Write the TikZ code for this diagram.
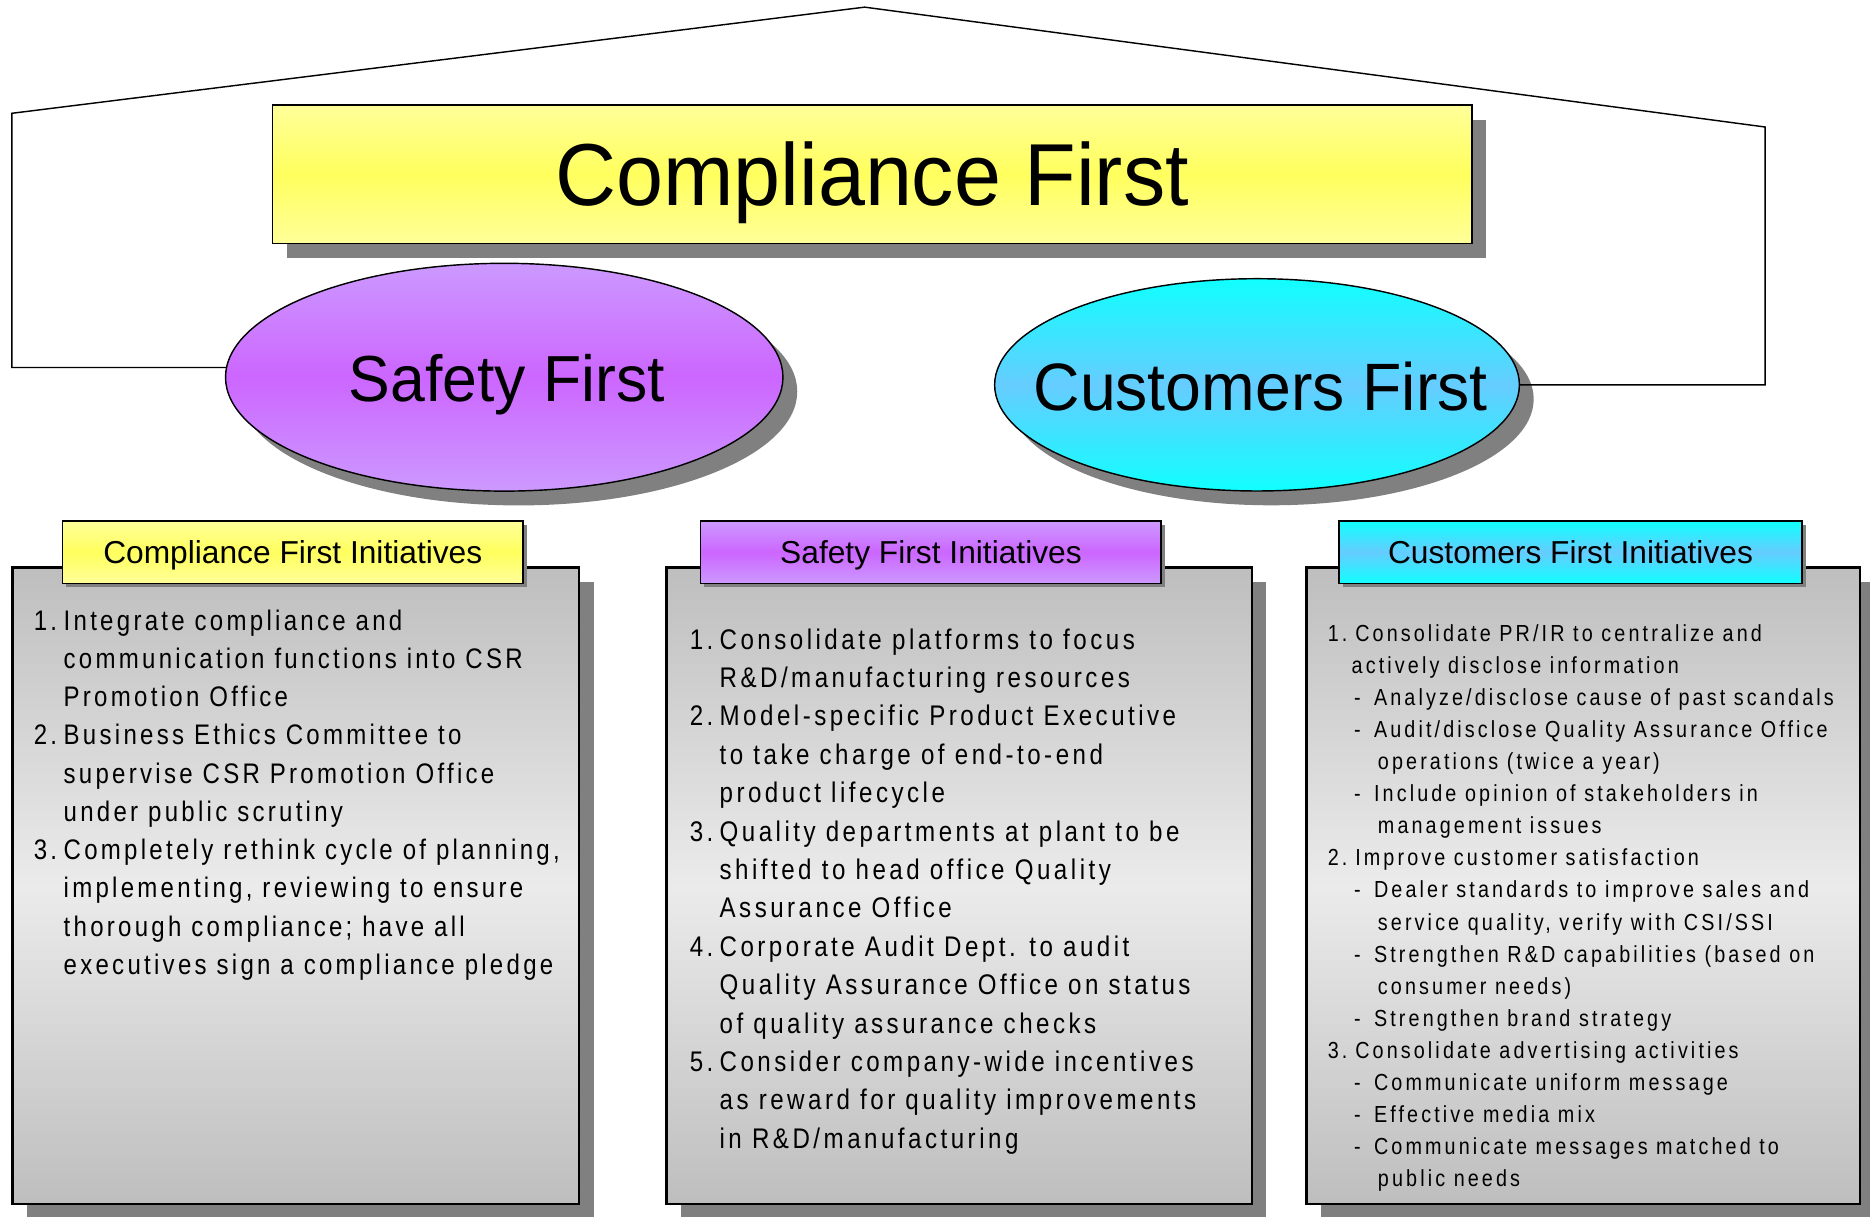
\documentclass[tikz,border=0pt]{standalone}
\usepackage{fontspec}
\setmainfont{Liberation Sans}
\newfontfamily\titlefont[FakeStretch=0.96]{Liberation Sans}
\newfontfamily\bodyfont[FakeStretch=0.85,LetterSpace=11.6]{Liberation Sans}
\newfontfamily\midbodyfont[FakeStretch=0.85,LetterSpace=12.3]{Liberation Sans}
\newfontfamily\smallbodyfont[FakeStretch=0.85,LetterSpace=13.4]{Liberation Sans}
\usetikzlibrary{shapes.geometric,shadows}
\definecolor{ylight}{HTML}{FFFF99}
\definecolor{ydark}{HTML}{FFFF5E}
\definecolor{plight}{HTML}{CC99FF}
\definecolor{pdark}{HTML}{CC66FF}
\definecolor{cbright}{HTML}{10FFFF}
\definecolor{cmid}{HTML}{66CCFF}
\definecolor{gedge}{HTML}{BEBEBE}
\definecolor{gmid}{HTML}{EBEBEB}
\definecolor{shadowgray}{HTML}{808080}
\newcommand{\mysubpoint}{\hspace*{11pt}-\hspace{2pt} }
\newcommand{\mynum}[1]{\makebox[11.5pt][l]{#1}}
\begin{document}
\begin{tikzpicture}[x=0.5pt,y=-0.5pt,
  bigshadow/.style={general shadow={fill=shadowgray,shadow xshift=6pt,shadow yshift=-6pt}},
  smallshadow/.style={general shadow={fill=shadowgray,shadow xshift=1.6pt,shadow yshift=-1.6pt}},
  yellowfill/.style={shading=axis,top color=ylight,bottom color=ylight,middle color=ydark},
  purplefill/.style={shading=axis,top color=plight,bottom color=plight,middle color=pdark},
  cyanfill/.style={shading=axis,top color=cbright,bottom color=cbright,middle color=cmid},
  grayfill/.style={shading=axis,top color=gedge,bottom color=gedge,middle color=gmid},
  ovalbox/.style={ellipse,draw=black,line width=0.6pt,inner sep=0pt,bigshadow},
  panelbox/.style={rectangle,draw=black,line width=1pt,grayfill,bigshadow,minimum height=266.65pt,inner sep=0pt},
  headbox/.style={rectangle,draw=black,line width=0.7pt,smallshadow,minimum height=26.1pt,inner sep=0pt,
    font=\fontsize{13.3pt}{15pt}\selectfont,text height=9.5pt,text depth=0pt},
  bodytext/.style={anchor=north west,inner sep=0pt,align=left},
  roof/.style={draw=black,line width=0.6pt}
]
\useasboundingbox (0,0) rectangle (1568,1020);

% top box
\node[rectangle,draw=black,line width=0.7pt,yellowfill,bigshadow,minimum width=502.75pt,minimum height=58pt,inner sep=0pt,
  font=\titlefont\fontsize{36.9pt}{40pt}\selectfont,text height=26.4pt,text depth=0pt]
  (compliance) at (731.25,146.3) {Compliance First};

% ellipses
\node[ovalbox,purplefill,minimum width=233.7pt,minimum height=95.5pt] (safety) at (422.8,316.3) {};
\node[font=\titlefont\fontsize{27.3pt}{30pt}\selectfont,text height=19.5pt,text depth=0pt,inner sep=0pt]
  (safetytext) at (425,317) {Safety First};
\node[ovalbox,cyanfill,minimum width=220pt,minimum height=89pt] (customers) at (1054,322.7) {};
\node[font=\titlefont\fontsize{28.1pt}{30pt}\selectfont,text height=20.1pt,text depth=0pt,inner sep=0pt]
  (customerstext) at (1057,324) {Customers First};

% roof connector
\coordinate (roofL) at (10,95);
\coordinate (peak) at (725,6);
\coordinate (roofR) at (1480,106.5);
\draw[roof,line join=miter] (safety.178.4) -- (safety.178.4 -| roofL) -- (roofL) -- (peak) -- (roofR)
  -- (customers.east -| roofR) -- (customers.east);

% panels
\node[panelbox,minimum width=237.55pt] (leftpanel) at (248.15,742.65) {};
\node[panelbox,minimum width=245.3pt] (midpanel) at (804.3,742.65) {};
\node[panelbox,minimum width=231.9pt] (rightpanel) at (1327.5,742.65) {};

% headers
\node[headbox,yellowfill,minimum width=193.1pt] (lefthead) at (245.5,463.1) {Compliance First Initiatives};
\node[headbox,purplefill,minimum width=193.1pt] (midhead) at (780.6,463.1) {Safety First Initiatives};
\node[headbox,cyanfill,minimum width=193.85pt] (righthead) at (1316.85,463.1) {Customers First Initiatives};

% body texts
\node[bodytext,font=\bodyfont\fontsize{11.85pt}{16.05pt}\selectfont] (lefttext) at (28,510.7) {%
\makebox[12.5pt][l]{1.}Integrate compliance and\\
\hspace*{12.5pt}communication functions into CSR\\
\hspace*{12.5pt}Promotion Office\\
\makebox[12.5pt][l]{2.}Business Ethics Committee to\\
\hspace*{12.5pt}supervise CSR Promotion Office\\
\hspace*{12.5pt}under public scrutiny\\
\makebox[12.5pt][l]{3.}Completely rethink cycle of planning,\\
\hspace*{12.5pt}implementing, reviewing to ensure\\
\hspace*{12.5pt}thorough compliance; have all\\
\hspace*{12.5pt}executives sign a compliance pledge};

\node[bodytext,font=\midbodyfont\fontsize{11.9pt}{16.1pt}\selectfont] (midtext) at (578,526.6) {%
\makebox[12.5pt][l]{1.}Consolidate platforms to focus\\
\hspace*{12.5pt}R\&D/manufacturing resources\\
\makebox[12.5pt][l]{2.}Model-specific Product Executive\\
\hspace*{12.5pt}to take charge of end-to-end\\
\hspace*{12.5pt}product lifecycle\\
\makebox[12.5pt][l]{3.}Quality departments at plant to be\\
\hspace*{12.5pt}shifted to head office Quality\\
\hspace*{12.5pt}Assurance Office\\
\makebox[12.5pt][l]{4.}Corporate Audit Dept. to audit\\
\hspace*{12.5pt}Quality Assurance Office on status\\
\hspace*{12.5pt}of quality assurance checks\\
\makebox[12.5pt][l]{5.}Consider company-wide incentives\\
\hspace*{12.5pt}as reward for quality improvements\\
\hspace*{12.5pt}in R\&D/manufacturing};

\node[bodytext,font=\smallbodyfont\fontsize{9.75pt}{13.45pt}\selectfont] (righttext) at (1113,523.2) {%
\mynum{1.}Consolidate PR/IR to centralize and\\
\hspace*{10pt}actively disclose information\\
\mysubpoint Analyze/disclose cause of past scandals\\
\mysubpoint Audit/disclose Quality Assurance Office\\
\hspace*{21pt}operations (twice a year)\\
\mysubpoint Include opinion of stakeholders in\\
\hspace*{21pt}management issues\\
\mynum{2.}Improve customer satisfaction\\
\mysubpoint Dealer standards to improve sales and\\
\hspace*{21pt}service quality, verify with CSI/SSI\\
\mysubpoint Strengthen R\&D capabilities (based on\\
\hspace*{21pt}consumer needs)\\
\mysubpoint Strengthen brand strategy\\
\mynum{3.}Consolidate advertising activities\\
\mysubpoint Communicate uniform message\\
\mysubpoint Effective media mix\\
\mysubpoint Communicate messages matched to\\
\hspace*{21pt}public needs};
\end{tikzpicture}
\end{document}
